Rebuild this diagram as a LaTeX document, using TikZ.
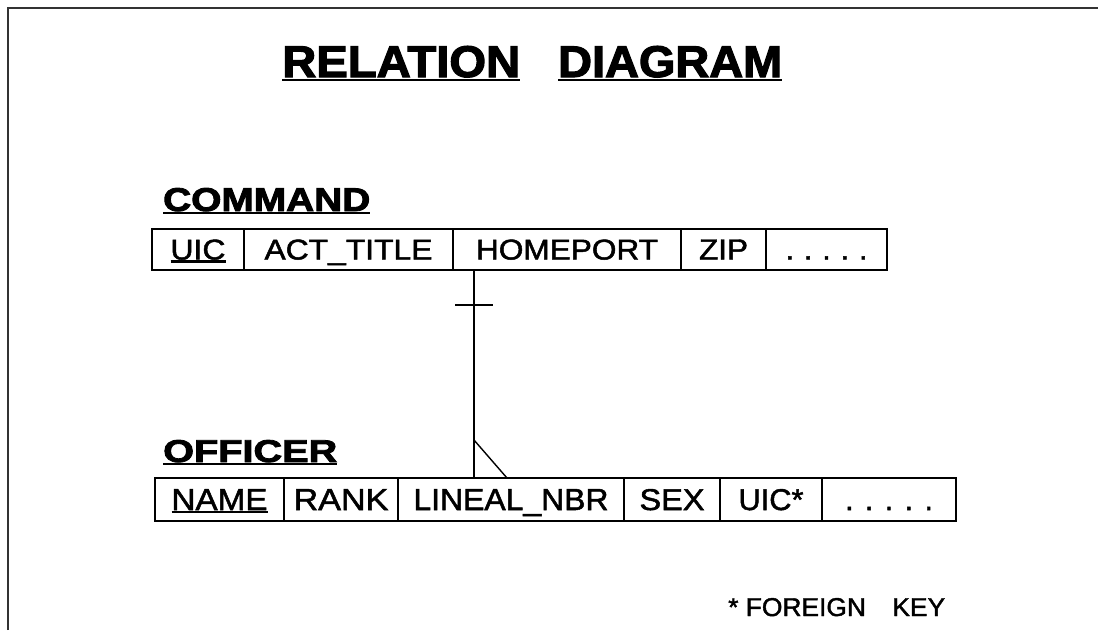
\documentclass[tikz,border=0pt]{standalone}
\usepackage{fontspec}
\setmainfont{Liberation Sans}
\newfontfamily\cellfont[FakeBold=1.6]{Liberation Sans}
\newfontfamily\headfont[FakeBold=2.5]{Liberation Sans Bold}
\usepackage{graphicx}
\newcommand{\fitbox}[3]{\resizebox{#1pt}{#2pt}{#3}}
\newcommand{\myul}[2]{\setbox0\hbox{#2}\rlap{\rule[-#1pt]{\wd0}{2.2pt}}\box0}
\begin{document}
\begin{tikzpicture}[x=1pt,y=-1pt,
  frame/.style={line width=2pt, draw=black!80},
  cell/.style={draw, line width=1.4pt, inner sep=0pt, outer sep=0pt, anchor=north west,
    text depth=0pt, font=\cellfont\fontsize{30}{30}\selectfont},
  cmdcell/.style={cell, minimum height=41pt, text height=20pt},
  offcell/.style={cell, minimum height=43pt, text height=21pt},
  txt/.style={inner sep=0pt, anchor=base west},
  link/.style={line width=1.4pt}]
\useasboundingbox (0,0) rectangle (1098,630);
\draw[frame] (8,630) -- (8,8) -- (1098,8);

% title
\node[txt] (t1) at (282,77) {\headfont\myul{4}{\fitbox{238}{31}{RELATION}}};
\node[txt] (t2) at (558,77) {\headfont\myul{4}{\fitbox{224}{31}{DIAGRAM}}};

% COMMAND
\node[txt] (cmdlabel) at (163,211) {\headfont\myul{3}{\fitbox{207}{23}{COMMAND}}};
\node[cmdcell, minimum width=92pt]  (c1) at (152,229) {\myul{3}{\fitbox{55}{20}{UIC}}};
\node[cmdcell, minimum width=209pt] (c2) at (c1.north east) {\fitbox{168}{20}{ACT\_TITLE}};
\node[cmdcell, minimum width=228pt] (c3) at (c2.north east) {\fitbox{182}{20}{HOMEPORT}};
\node[cmdcell, minimum width=85pt]  (c4) at (c3.north east) {\fitbox{49}{20}{ZIP}};
\node[cmdcell, minimum width=121pt] (c5) at (c4.north east) {.\hspace{10pt}.\hspace{10pt}.\hspace{10pt}.\hspace{10pt}.};

% OFFICER
\node[txt] (offlabel) at (163,462) {\headfont\myul{3}{\fitbox{174}{22}{OFFICER}}};
\node[offcell, minimum width=129pt] (o1) at (155,478) {\myul{3}{\fitbox{96}{21}{NAME}}};
\node[offcell, minimum width=114pt] (o2) at (o1.north east) {\fitbox{95}{21}{RANK}};
\node[offcell, minimum width=226pt] (o3) at (o2.north east) {\fitbox{195}{21}{LINEAL\_NBR}};
\node[offcell, minimum width=96pt]  (o4) at (o3.north east) {\fitbox{65}{21}{SEX}};
\node[offcell, minimum width=102pt] (o5) at (o4.north east) {\fitbox{65}{21}{UIC*}};
\node[offcell, minimum width=134pt] (o6) at (o5.north east) {.\hspace{11.5pt}.\hspace{11.5pt}.\hspace{11.5pt}.\hspace{11.5pt}.};

% relationship
\coordinate (lx) at (474,0);
\coordinate (bar) at (474,305);
\coordinate (fork) at (474,440);
\coordinate (forkend) at (507,0);
\draw[link] (lx |- c3.south) -- (lx |- o3.north);
\draw[link] ([xshift=-19pt]bar) -- ([xshift=19pt]bar);
\draw[link] (fork) -- (forkend |- o3.north);

% note
\node[txt] (note) at (728,616) {\cellfont\fitbox{217}{18}{*\ FOREIGN\quad KEY}};
\end{tikzpicture}
\end{document}
